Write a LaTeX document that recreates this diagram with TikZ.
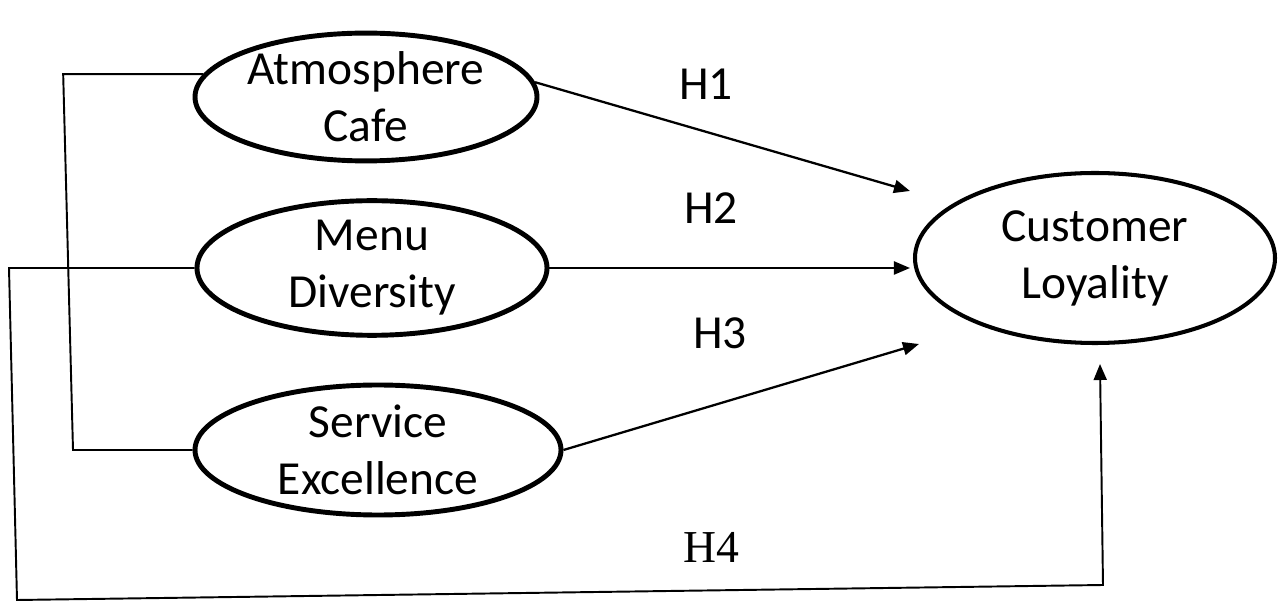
\documentclass[tikz,border=0pt]{standalone}
\usepackage{fontspec}
\setmainfont{Carlito}
\newfontfamily\timesfont{Liberation Serif}
\usepackage{tikz}
\usetikzlibrary{shapes,arrows.meta,positioning,calc}

\begin{document}
\begin{tikzpicture}[
    construct/.style={draw, ellipse, line width=2.8pt, inner sep=0pt, align=center,
        font=\fontsize{27}{32.5}\selectfont},
    hlabel/.style={font=\fontsize{27}{32.5}\selectfont},
    link/.style={line width=1.1pt},
    hypo/.style={line width=1.3pt, ->},
    >={Triangle[length=0.32cm,width=0.26cm]}
]
\useasboundingbox (0,0) rectangle (25.56,12.06);

% Constructs
\node[construct, minimum width=6.84cm, minimum height=2.52cm] (atm) at (7.32,10.12) {Atmosphere\\Cafe};
\node[construct, minimum width=7.0cm, minimum height=2.32cm] (menu) at (7.44,6.70) {Menu\\Diversity};
\node[construct, minimum width=7.32cm, minimum height=2.6cm] (svc) at (7.56,3.06) {Service\\Excellence};
\node[construct, line width=2.3pt, minimum width=7.2cm, minimum height=3.4cm] (loyal) at (21.90,6.90) {Customer\\Loyality};

% Hypotheses
\node[hlabel] (h1) at (14.12,10.38) {H1};
\node[hlabel] (h2) at (14.22,7.90) {H2};
\node[hlabel] (h3) at (14.40,5.40) {H3};
\node[hlabel, font=\timesfont\fontsize{26}{32}\selectfont] (h4) at (14.22,1.12) {H4};

\draw[hypo] (atm.5) -- ([xshift=-0.06cm,yshift=1.34cm]loyal.west);
\draw[hypo] (menu.east) -- ([xshift=-0.06cm,yshift=-0.20cm]loyal.west);
\draw[hypo] (svc.east) -- ([xshift=0.12cm,yshift=-1.72cm]loyal.west);

% Bracket on the left
\coordinate (brBot) at (1.46,3.06);
\draw[link] (atm.172) -- ++(-2.8,0) -- (brBot) -- (svc.west);

% Loop to the bottom
\coordinate (lpTop) at (0.18,6.70);
\coordinate (lpBot) at (0.34,0.06);
\coordinate (lpEnd) at (22.06,0.36);
\draw[link, ->] (menu.west) -- (lpTop) -- (lpBot) -- (lpEnd) -- ([xshift=0.1cm,yshift=-0.38cm]loyal.south);
\end{tikzpicture}
\end{document}
